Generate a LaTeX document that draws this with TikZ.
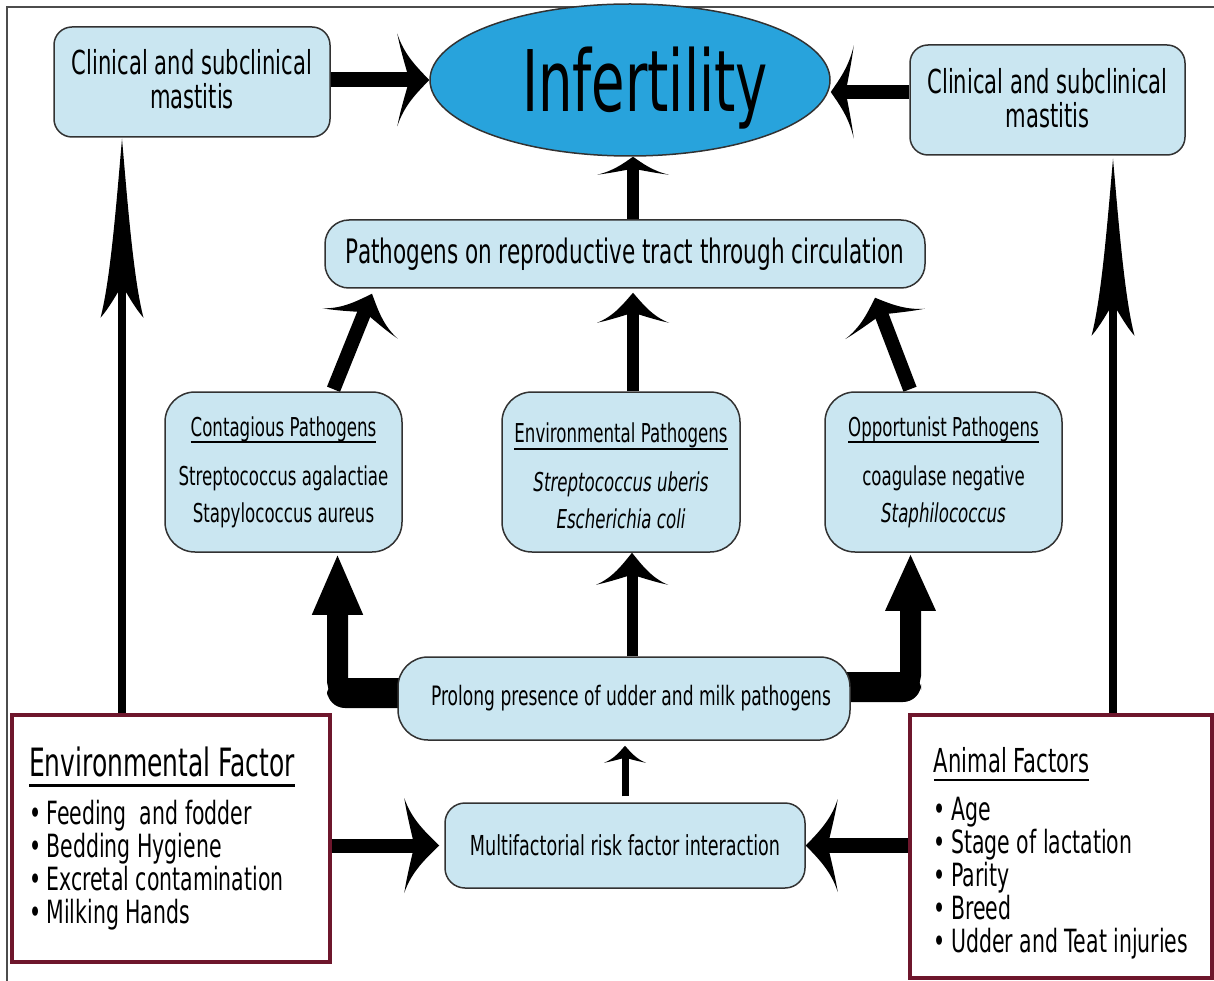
\documentclass[tikz,border=0pt]{standalone}
\usepackage{fontspec}
\setmainfont{DejaVu Sans}[FakeStretch=0.64]
\usetikzlibrary{arrows.meta,shapes.geometric}
\pgfdeclarelayer{bg}
\pgfsetlayers{bg,main}

\makeatletter
\pgfdeclarearrow{
  name = CBarb,
  parameters = {\the\pgfarrowlength,\the\pgfarrowwidth,\the\pgfarrowinset},
  setup code = {
    \pgfarrowssettipend{0pt}
    \pgf@x=-\pgfarrowlength
    \advance\pgf@x by \pgfarrowinset
    \advance\pgf@x by 1pt
    \pgfarrowssetlineend{\pgf@x}
    \pgfarrowssetbackend{-\pgfarrowlength}
    \pgfarrowssetvisualbackend{-\pgfarrowlength}
    \pgfarrowsupperhullpoint{0pt}{0pt}
    \pgfarrowsupperhullpoint{-\pgfarrowlength}{.5\pgfarrowwidth}
    \pgfarrowssavethe\pgfarrowlength
    \pgfarrowssavethe\pgfarrowwidth
    \pgfarrowssavethe\pgfarrowinset
  },
  drawing code = {
    \pgfpathmoveto{\pgfqpoint{0pt}{0pt}}
    \pgfpathcurveto
      {\pgfpoint{-0.36\pgfarrowlength}{0.13\pgfarrowwidth}}
      {\pgfpoint{-0.79\pgfarrowlength}{0.27\pgfarrowwidth}}
      {\pgfpoint{-\pgfarrowlength}{0.5\pgfarrowwidth}}
    \pgfpathcurveto
      {\pgfpoint{-\pgfarrowlength+0.3\pgfarrowinset}{0.3\pgfarrowwidth}}
      {\pgfpoint{-\pgfarrowlength+0.8\pgfarrowinset}{0.1\pgfarrowwidth}}
      {\pgfpoint{-\pgfarrowlength+\pgfarrowinset}{0pt}}
    \pgfpathcurveto
      {\pgfpoint{-\pgfarrowlength+0.8\pgfarrowinset}{-0.1\pgfarrowwidth}}
      {\pgfpoint{-\pgfarrowlength+0.3\pgfarrowinset}{-0.3\pgfarrowwidth}}
      {\pgfpoint{-\pgfarrowlength}{-0.5\pgfarrowwidth}}
    \pgfpathcurveto
      {\pgfpoint{-0.79\pgfarrowlength}{-0.27\pgfarrowwidth}}
      {\pgfpoint{-0.36\pgfarrowlength}{-0.13\pgfarrowwidth}}
      {\pgfqpoint{0pt}{0pt}}
    \pgfpathclose
    \pgfusepathqfill
  },
  defaults = {length=20pt, width=30pt, inset=8pt}
}
\makeatother

\definecolor{boxblue}{RGB}{202,230,241}
\definecolor{ellblue}{RGB}{40,163,220}
\definecolor{frmaroon}{RGB}{110,22,44}
\definecolor{edgec}{RGB}{50,50,50}

\newsavebox\ulbox
\newcommand\ulx[1]{\sbox\ulbox{#1}\rlap{\rule[-0.27em]{\wd\ulbox}{0.07em}}\usebox\ulbox}
\newcommand\fs[2]{\fontsize{#1}{#2}\selectfont}

\tikzset{
  bx/.style={draw=edgec, line width=1.5pt, fill=boxblue, rounded corners=#1, inner sep=0pt, align=center},
  fbx/.style={draw=frmaroon, line width=4pt, fill=white, inner sep=0pt, align=left},
  cbar/.style n args={4}{line width=#4pt, -{CBarb[length=#1pt, width=#2pt, inset=#3pt]}},
  bent/.style={line width=21pt, rounded corners=12pt, -{Triangle[length=#1pt, width=46pt]}},
}

\begin{document}
\begin{tikzpicture}[x=1pt, y=-1pt]
\useasboundingbox (0,0) rectangle (1214,981);
\draw[line width=1.5pt, black!70] (7,981) -- (7,7) -- (1214,7);

% nodes
\node[bx=18pt, minimum width=276pt, minimum height=110pt, font=\fs{33}{34}] (mastL) at (192,82) {Clinical and subclinical\\mastitis\rule[-6pt]{0pt}{6pt}};
\node[bx=18pt, minimum width=275pt, minimum height=110pt, font=\fs{33}{34}] (mastR) at (1047.5,100) {Clinical and subclinical\\mastitis\rule[-4pt]{0pt}{4pt}};
\node[ellipse, draw=edgec, line width=1.5pt, fill=ellblue, minimum width=400pt, minimum height=152pt, inner sep=0pt, font=\fs{85}{85}, text height=64pt, text depth=0pt] (infert) at (630,80) {\hspace*{30pt}Infertility};
\node[bx=24pt, minimum width=600pt, minimum height=68pt, font=\fs{33.7}{34}] (pathr) at (625,254) {Pathogens on reproductive tract through circulation};
\node[bx=30pt, minimum width=237pt, minimum height=160pt, font=\fs{26}{37}] (cont) at (283.5,472) {\ulx{Contagious Pathogens}\\[12pt]Streptococcus agalactiae\\Stapylococcus aureus};
\node[bx=30pt, minimum width=238pt, minimum height=160pt, font=\fs{26}{37}] (envp) at (621,472) {\rule{0pt}{28pt}\ulx{Environmental Pathogens}\\[12pt]\textit{Streptococcus uberis}\\\textit{Escherichia coli}};
\node[bx=30pt, minimum width=237pt, minimum height=160pt, font=\fs{26}{37}] (opp) at (943.5,472) {\ulx{Opportunist Pathogens}\\[12pt]coagulase negative\\\textit{Staphilococcus}};
\node[bx=30pt, minimum width=452pt, minimum height=83pt, font=\fs{26.7}{30}] (prolong) at (624,698.5) {\hspace*{14pt}Prolong presence of udder and milk pathogens};
\node[bx=20pt, minimum width=360pt, minimum height=85pt, font=\fs{27.5}{30}] (multi) at (625,845.5) {Multifactorial risk factor interaction};
\node[fbx, minimum width=318pt, minimum height=247pt, font=\fs{32}{33}] (envF) at (171,838.5) {{\fs{39}{40}\ulx{Environmental Factor}}\hspace*{18pt}\\[13pt]•\,Feeding\ \ and fodder\\•\,Bedding Hygiene\\•\,Excretal contamination\\•\,Milking Hands\rule[-6pt]{0pt}{6pt}};
\node[fbx, minimum width=302pt, minimum height=263pt, font=\fs{32}{33}] (animF) at (1061,846.5) {\rule{0pt}{38pt}{\fs{33}{34}\ulx{Animal Factors}}\\[15pt]•\,Age\\•\,Stage of lactation\\•\,Parity\\•\,Breed\\•\,Udder and Teat injuries};

% connectors
\begin{pgfonlayer}{bg}
\draw[cbar={32}{93}{12}{15}] ([yshift=2pt]mastL.east) -- (infert.west);
\draw[cbar={23}{93}{8}{14}] ([yshift=8pt]mastR.west) -- ([yshift=-12pt]infert.east);
\draw[cbar={18}{72}{6}{12}] ([xshift=8pt]pathr.north) -- ([xshift=8pt]pathr.north |- infert.south);
\draw[cbar={32}{81}{12}{14}] ([xshift=50pt,yshift=2pt]cont.north) -- ([xshift=-253pt,yshift=-5pt]pathr.south);
\draw[cbar={30}{72}{10}{12}] ([xshift=12pt]envp.north) -- ([xshift=8pt,yshift=-4pt]pathr.south);
\draw[cbar={28}{85}{10}{14}] ([xshift=-33.5pt,yshift=2pt]opp.north) -- ([xshift=250pt,yshift=-9pt]pathr.south);
\draw[cbar={32}{72}{10}{11}] ([xshift=8pt]prolong.north) -- ([xshift=8pt]prolong.north |- envp.south);
\draw[cbar={17}{42}{5}{7}] ([yshift=6pt]multi.north) -- ([yshift=-5pt]multi.north |- prolong.south);
\draw[cbar={35}{95}{10}{14}] ([yshift=-7pt]envF.east) -- ([xshift=-5pt]multi.west);
\draw[cbar={32}{93}{10}{15}] ([yshift=1pt]animF.west) -- (multi.east);
\draw[cbar={179}{43}{32}{8}] ([xshift=-49pt]envF.north) -- ([xshift=-70pt,yshift=-1pt]mastL.south);
\draw[cbar={177}{43}{32}{8}] ([xshift=52pt]animF.north) -- ([xshift=65.5pt,yshift=-3pt]mastR.south);
\draw[bent=62] ([yshift=5.5pt]prolong.west) -| ([xshift=54pt]cont.south);
\fill[rounded corners=18pt] (327,678) rectangle (430,708);
\draw[bent=58] ([yshift=11.5pt]prolong.east) -| ([xshift=-33pt]opp.south);
\fill[rounded corners=18pt] (820,672) rectangle (921,702);
\end{pgfonlayer}
\end{tikzpicture}
\end{document}
